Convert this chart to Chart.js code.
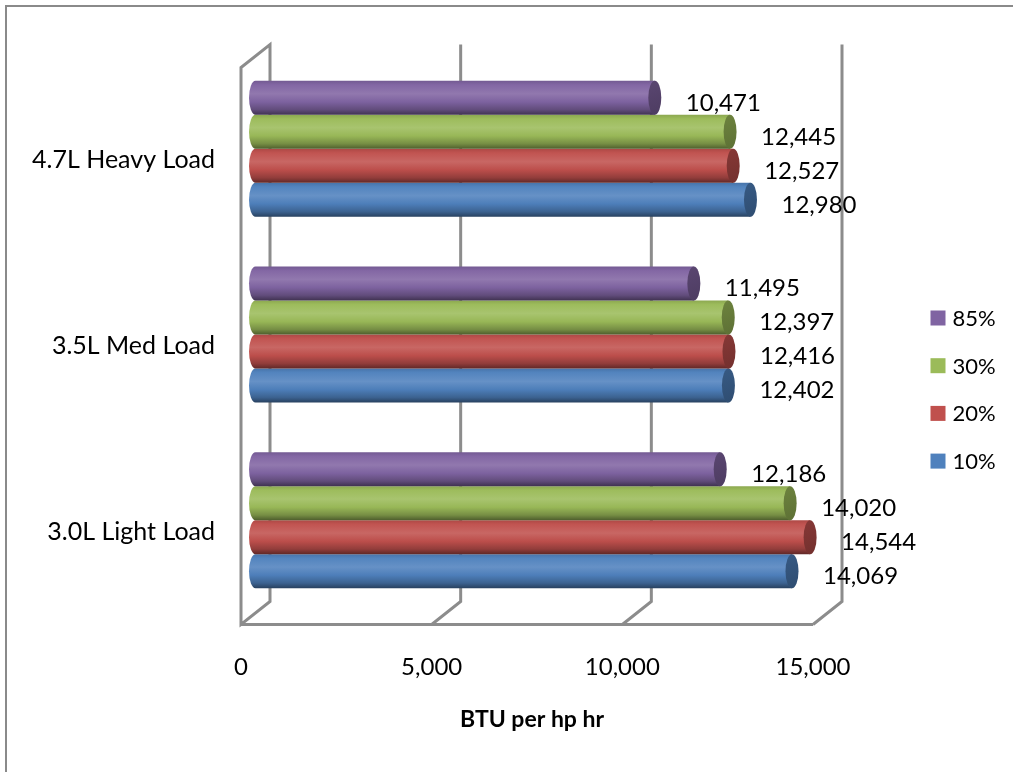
<!DOCTYPE html>
<html>
<head>
<meta charset="utf-8">
<script src="https://cdn.jsdelivr.net/npm/chart.js@4.4.0/dist/chart.umd.min.js"></script>
<style>
  html, body { margin: 0; padding: 0; background: #ffffff; }
  canvas { display: block; }
</style>
</head>
<body>
<canvas id="chart" width="1013" height="772"></canvas>
<script>
// Engine loads, BTU per hp hr at each throttle setting
const categories = ['4.7L Heavy Load', '3.5L Med Load', '3.0L Light Load'];
const seriesNames = ['85%', '30%', '20%', '10%'];
const load85 = [10471, 11495, 12186];
const load30 = [12445, 12397, 14020];
const load20 = [12527, 12416, 14544];
const load10 = [12980, 12402, 14069];
const seriesColors = ['#8064A2', '#9BBB59', '#C0504D', '#4F81BD'];
const xTickValues = [0, 5000, 10000, 15000];
const axisTitle = 'BTU per hp hr';

// half depth of the 3-D box: bars sit midway between back wall and front edge
const DX = 14.5;
const DY = 11.5;
const CAP_RX = 6.5;
const FONT = 'Lato, "DejaVu Sans", sans-serif';
const WALL = '#8C8C8C';

const fmt = v => v.toLocaleString('en-US');

function shade(hex, f) {
  const n = parseInt(hex.slice(1), 16);
  const ch = [n >> 16, (n >> 8) & 255, n & 255].map(c =>
    f <= 1 ? Math.round(c * f) : Math.round(c + (255 - c) * (f - 1)));
  return `rgb(${ch[0]},${ch[1]},${ch[2]})`;
}

function drawCylinder(ctx, base, end, yc, h, color) {
  const top = yc - h / 2, bot = yc + h / 2, ry = h / 2;
  const g = ctx.createLinearGradient(0, top, 0, bot);
  g.addColorStop(0, shade(color, 0.9));
  g.addColorStop(0.12, shade(color, 1.02));
  g.addColorStop(0.38, shade(color, 1.13));
  g.addColorStop(0.62, shade(color, 0.98));
  g.addColorStop(0.85, shade(color, 0.76));
  g.addColorStop(1, shade(color, 0.5));
  ctx.beginPath();
  ctx.moveTo(end, top);
  ctx.lineTo(base, top);
  ctx.ellipse(base, yc, CAP_RX, ry, 0, -Math.PI / 2, Math.PI / 2, true);
  ctx.lineTo(end, bot);
  ctx.closePath();
  ctx.fillStyle = g;
  ctx.fill();

  const cg = ctx.createLinearGradient(end - CAP_RX, top, end + CAP_RX, bot);
  cg.addColorStop(0, shade(color, 0.7));
  cg.addColorStop(1, shade(color, 0.6));
  ctx.beginPath();
  ctx.ellipse(end, yc, CAP_RX, ry, 0, 0, Math.PI * 2);
  ctx.fillStyle = cg;
  ctx.fill();
}

// outer frame, 3-D walls and floor
const boxPlugin = {
  id: 'box3d',
  beforeDraw(chart) {
    const ctx = chart.ctx;
    ctx.save();
    ctx.strokeStyle = '#8A8A8A';
    ctx.lineWidth = 2;
    ctx.strokeRect(6, 6, chart.width + 20, chart.height + 20);
    ctx.restore();
  },
  beforeDatasetsDraw(chart) {
    const ctx = chart.ctx, xs = chart.scales.x, a = chart.chartArea;
    const fx = v => xs.getPixelForValue(v) - DX;
    const bx = v => xs.getPixelForValue(v) + DX;
    const topB = a.top - DY, botB = a.bottom - DY;
    const topF = a.top + DY, botF = a.bottom + DY;
    const last = xTickValues[xTickValues.length - 1];
    ctx.save();
    ctx.strokeStyle = WALL;
    ctx.lineWidth = 3;
    ctx.lineJoin = 'miter';
    // side wall
    ctx.beginPath();
    ctx.moveTo(fx(0), botF);
    ctx.lineTo(fx(0), topF);
    ctx.lineTo(bx(0), topB);
    ctx.lineTo(bx(0), botB);
    ctx.closePath();
    ctx.stroke();
    // back-wall gridlines running into the floor
    xTickValues.slice(1).forEach(v => {
      ctx.beginPath();
      ctx.moveTo(bx(v), topB);
      ctx.lineTo(bx(v), botB);
      ctx.lineTo(fx(v), botF);
      ctx.stroke();
    });
    // front edge of the floor
    ctx.beginPath();
    ctx.moveTo(fx(0), botF);
    ctx.lineTo(fx(last), botF);
    ctx.stroke();
    ctx.restore();
  },
  beforeDatasetDraw(chart, args) {
    const ctx = chart.ctx;
    const color = chart.data.datasets[args.index].backgroundColor;
    ctx.save();
    args.meta.data.forEach(el => {
      const p = el.getProps(['x', 'y', 'base', 'height'], true);
      drawCylinder(ctx, p.base, p.x, p.y, p.height, color);
    });
    ctx.restore();
    return false;
  },
  afterDatasetsDraw(chart) {
    const ctx = chart.ctx;
    ctx.save();
    ctx.fillStyle = '#000000';
    ctx.font = `24px ${FONT}`;
    ctx.textAlign = 'left';
    ctx.textBaseline = 'middle';
    chart.data.datasets.forEach((ds, i) => {
      chart.getDatasetMeta(i).data.forEach((el, j) => {
        const p = el.getProps(['x', 'y'], true);
        ctx.fillText(fmt(ds.data[j]), p.x + 31, p.y + 5);
      });
    });
    ctx.restore();
  },
  afterDraw(chart) {
    const ctx = chart.ctx, xs = chart.scales.x, a = chart.chartArea;
    const last = xTickValues[xTickValues.length - 1];
    ctx.save();
    // axis title under the front edge
    ctx.fillStyle = '#000000';
    ctx.font = `bold 23px ${FONT}`;
    ctx.textAlign = 'center';
    ctx.textBaseline = 'middle';
    const cx = (xs.getPixelForValue(0) + xs.getPixelForValue(last)) / 2 - DX + 5;
    ctx.fillText(axisTitle, cx, a.bottom + 107);
    // legend
    ctx.font = `22px ${FONT}`;
    ctx.textAlign = 'left';
    const lx = a.right + 103;
    chart.data.datasets.forEach((ds, i) => {
      const y = 318 + i * 47.7;
      ctx.fillStyle = ds.backgroundColor;
      ctx.fillRect(lx, y - 7.5, 15, 15);
      ctx.fillStyle = '#000000';
      ctx.fillText(ds.label, lx + 22, y + 1);
    });
    ctx.restore();
  }
};

const seriesData = [load85, load30, load20, load10];

new Chart(document.getElementById('chart'), {
  type: 'bar',
  data: {
    labels: categories,
    datasets: seriesNames.map((name, i) => ({
      label: name,
      data: seriesData[i],
      backgroundColor: seriesColors[i],
      borderWidth: 0,
      categoryPercentage: 0.7325,
      barPercentage: 1
    }))
  },
  options: {
    indexAxis: 'y',
    responsive: false,
    animation: false,
    devicePixelRatio: 1,
    layout: { padding: { top: 56, right: 185.5, bottom: 0, left: 0 } },
    plugins: {
      legend: { display: false },
      tooltip: { enabled: false },
      title: { display: false }
    },
    scales: {
      x: {
        min: 0,
        max: 15000,
        afterBuildTicks(scale) { scale.ticks = xTickValues.map(v => ({ value: v })); },
        afterFit(scale) { scale.height = 159; },
        grid: { display: false, drawTicks: false },
        border: { display: false },
        ticks: {
          padding: 40,
          labelOffset: -DX,
          color: '#000000',
          font: { family: FONT, size: 24 },
          maxRotation: 0,
          callback: v => fmt(v)
        }
      },
      y: {
        afterFit(scale) { scale.width = 255.5; },
        grid: { display: false, drawTicks: false },
        border: { display: false },
        ticks: {
          padding: 40.5,
          labelOffset: DY,
          color: '#000000',
          font: { family: FONT, size: 25 }
        }
      }
    }
  },
  plugins: [boxPlugin]
});
</script>
</body>
</html>
